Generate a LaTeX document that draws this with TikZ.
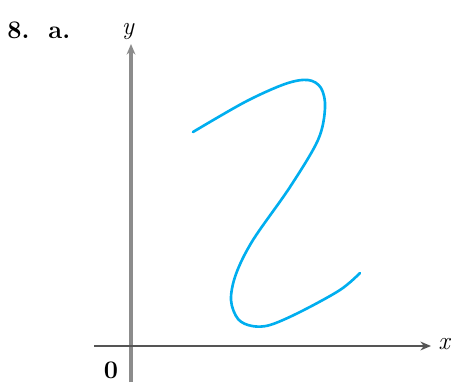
\documentclass[tikz,border=0pt]{standalone}
\usepackage{tikz}
\usetikzlibrary{arrows.meta}
\definecolor{curvecyan}{RGB}{0,174,239}
\definecolor{axisdark}{RGB}{85,85,85}
\definecolor{axisgray}{RGB}{140,140,140}

\begin{document}
\begin{tikzpicture}[
    x=0.02cm, y=0.02cm,
    axis/.style={line width=1.6pt, -{Stealth[length=6pt,width=5pt]}},
    curve/.style={curvecyan, line width=1.5pt, line cap=round},
    lab/.style={font=\Large\itshape, inner sep=0pt}
]
\useasboundingbox (0,0) rectangle (456,382);

% Axes
\coordinate (xstart) at (94,36);
\coordinate (xend) at (431,36);
\coordinate (ystart) at (131,0);
\coordinate (yend) at (131,338);
\draw[axis, axisgray, line width=2pt] (ystart) -- (yend);
\draw[axis, axisdark] (xstart) -- (xend);

% Labels
\node[lab] (xlab) at (444,38) {x};
\node[lab] (ylab) at (128,350) {y};
\node[inner sep=0pt, font=\Large\bfseries] (zero) at (111,12) {0};
\node[inner sep=0pt, font=\Large\bfseries, anchor=west] (title) at (7,352) {8.\ \ a.};

% Curve
\draw[curve] plot[smooth, tension=0.55] coordinates {
    (193,250) (245,280) (285,298) (308,302) (321,294) (325,274)
    (318,242) (290,195) (253,142) (236,108) (231,82) (238,63)
    (252,56) (270,57) (300,70) (340,92) (360,109)};

\end{tikzpicture}
\end{document}
